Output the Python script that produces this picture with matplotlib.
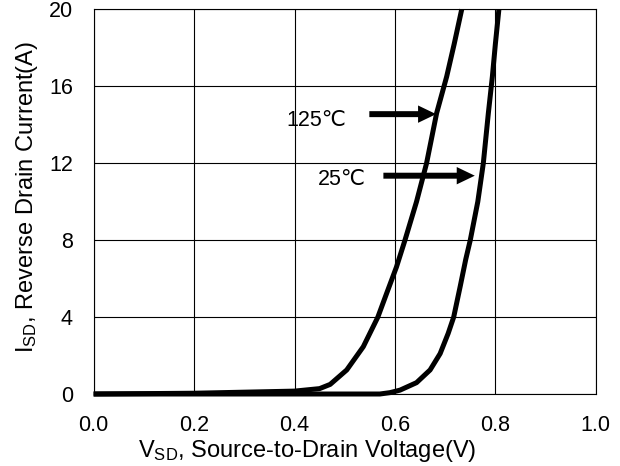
import numpy as np
import matplotlib
matplotlib.use("Agg")
import matplotlib.pyplot as plt

plt.rcParams['font.family'] = ['Liberation Sans', 'DejaVu Sans']
plt.rcParams['mathtext.fontset'] = 'custom'
plt.rcParams['mathtext.rm'] = 'Liberation Sans'
plt.rcParams['mathtext.it'] = 'Liberation Sans'

# 125 C curve (V, A)
v_125 = [0.0, 0.2, 0.4, 0.45, 0.471, 0.504, 0.537, 0.566, 0.583, 0.603, 0.620,
         0.643, 0.663, 0.683, 0.703, 0.718, 0.733]
i_125 = [0.0, 0.04, 0.15, 0.28, 0.5, 1.25, 2.46, 4.0, 5.2, 6.6, 8.0,
         10.0, 12.0, 14.6, 16.5, 18.2, 20.0]

# 25 C curve (V, A)
v_25 = [0.0, 0.4, 0.57, 0.59, 0.610, 0.643, 0.670, 0.690, 0.706, 0.717, 0.730,
        0.741, 0.750, 0.765, 0.776, 0.786, 0.794, 0.800, 0.807]
i_25 = [0.0, 0.0, 0.0, 0.07, 0.2, 0.59, 1.25, 2.1, 3.15, 4.0, 5.6,
        7.0, 8.0, 10.0, 12.0, 14.6, 16.5, 18.2, 20.0]

x_ticks = [0.0, 0.2, 0.4, 0.6, 0.8, 1.0]
y_ticks = [0, 4, 8, 12, 16, 20]

fig = plt.figure(figsize=(6.2, 4.66), dpi=100)
ax = fig.add_axes([0.151, 0.1545, 0.810, 0.8255])

ax.plot(v_125, i_125, color='black', lw=3.6, solid_capstyle='butt', clip_on=False, zorder=3)
ax.plot(v_25, i_25, color='black', lw=3.6, solid_capstyle='butt', clip_on=False, zorder=3)

ax.set_xlim(0, 1.0)
ax.set_ylim(0, 20)
ax.set_xticks(x_ticks)
ax.set_xticklabels([f'{t:.1f}' for t in x_ticks])
ax.set_yticks(y_ticks)
ax.tick_params(axis='x', length=0, labelsize=15.5, pad=15)
ax.tick_params(axis='y', length=0, labelsize=15.5, pad=15)
ax.grid(True, color='black', lw=0.8)
ax.set_axisbelow(True)
for s in ax.spines.values():
    s.set_linewidth(0.8)

ax.set_xlabel(r'V$_{\mathrm{SD}}$, Source-to-Drain Voltage(V)', fontsize=17)
ax.set_ylabel(r'I$_{\mathrm{SD}}$, Reverse Drain Current(A)', fontsize=17)
ax.xaxis.set_label_coords(0.426, -0.115)
ax.yaxis.set_label_coords(-0.106, 0.512)

# annotations
arrow = dict(arrowstyle='simple,head_length=13,head_width=12.5,tail_width=4.3',
             mutation_scale=1, color='black', lw=0, shrinkA=0, shrinkB=0)
ax.text(0.3845, 13.93, '125\u2103', fontsize=15.5, ha='left', va='baseline')
ax.annotate('', xy=(0.682, 14.55), xytext=(0.549, 14.55), arrowprops=arrow)
ax.text(0.4474, 10.86, '25\u2103', fontsize=15.5, ha='left', va='baseline')
ax.annotate('', xy=(0.759, 11.35), xytext=(0.577, 11.35), arrowprops=arrow)

fig.savefig('out.png', dpi=100)
